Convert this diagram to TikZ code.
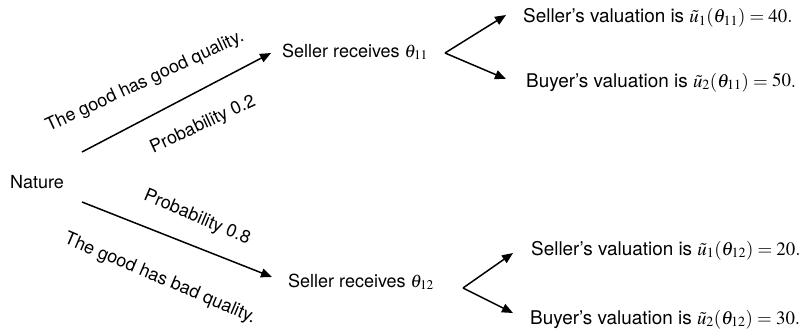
\documentclass[tikz,border=0pt]{standalone}
\usepackage{mathptmx}
\usepackage{fontspec}
\setmainfont{TeX Gyre Heros}
\usetikzlibrary{arrows.meta}
\begin{document}
\begin{tikzpicture}[x=1pt,y=-1pt,
  txt/.style={font=\fontsize{18}{21}\selectfont, inner sep=0pt, anchor=base west},
  val/.style={font=\fontsize{18.9}{22}\selectfont, inner sep=0pt, anchor=base west},
  lbl/.style={font=\fontsize{18}{21}\selectfont, inner sep=0pt, anchor=center},
  arr/.style={line width=1.5pt, -{Triangle[length=11pt,width=9pt]}}]
\useasboundingbox (0,0) rectangle (806,332);
% nodes
\node[txt] (nature) at (10,188) {Nature};
\node[txt] (s1) at (282,57) {Seller receives $\theta_{11}$};
\node[txt] (s2) at (288,287) {Seller receives $\theta_{12}$};
\node[val] (v1) at (523,23) {Seller's valuation is $\tilde{u}_1(\theta_{11})=40.$};
\node[val] (v2) at (526,87) {Buyer's valuation is $\tilde{u}_2(\theta_{11})=50.$};
\node[val] (v3) at (531,255) {Seller's valuation is $\tilde{u}_1(\theta_{12})=20.$};
\node[val] (v4) at (530,324) {Buyer's valuation is $\tilde{u}_2(\theta_{12})=30.$};
% connector end points
\coordinate (n1) at (82,152);
\coordinate (e1) at (271,53);
\coordinate (n2) at (82,202);
\coordinate (e2) at (272,277);
\coordinate (f1) at (445,53);
\coordinate (t11) at (506,15);
\coordinate (t12) at (506,79);
\coordinate (f2) at (463,288);
\coordinate (t21) at (513,253);
\coordinate (t22) at (513,313);
% arrows
\draw[arr] (n1) -- (e1);
\draw[arr] (n2) -- (e2);
\draw[arr] (f1) -- (t11);
\draw[arr] (f1) -- (t12);
\draw[arr] (f2) -- (t21);
\draw[arr] (f2) -- (t22);
% labels
\node[lbl, rotate=25] (l1) at (145,82) {The good has good quality.};
\node[lbl, rotate=25] (l2) at (203,125) {Probability 0.2};
\node[lbl, rotate=-23] (l3) at (197,218) {Probability 0.8};
\node[lbl, rotate=-23] (l4) at (160,279) {The good has bad quality.};
\end{tikzpicture}
\end{document}
